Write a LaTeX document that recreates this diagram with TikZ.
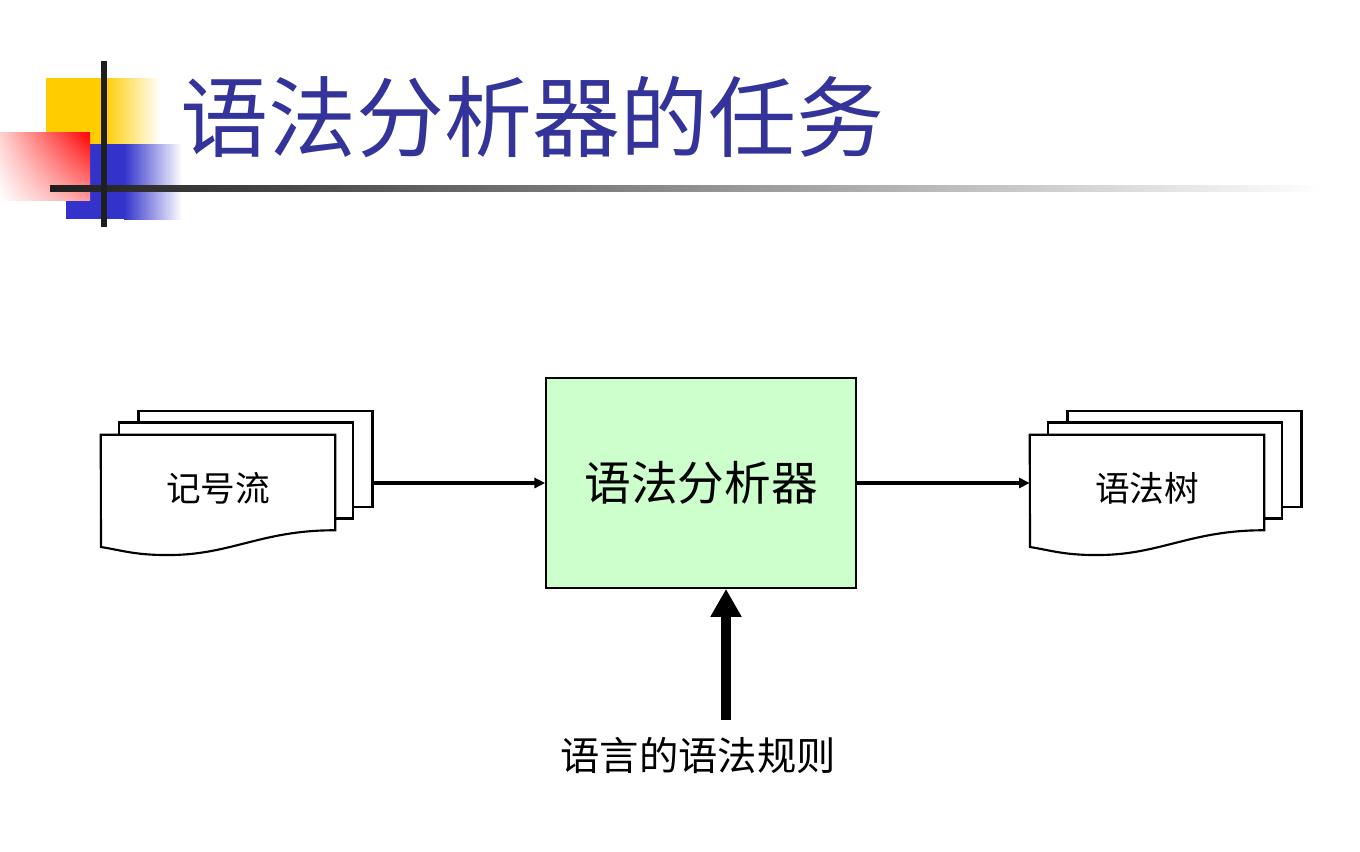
\documentclass[tikz,border=0pt]{standalone}
\usepackage{fontspec}
\setmainfont{Noto Sans CJK SC}
\usetikzlibrary{arrows.meta,shadings}
\definecolor{titleblue}{HTML}{333399}
\definecolor{boxgreen}{HTML}{CCFFCC}
\definecolor{logoyellow}{HTML}{FFCC00}
\definecolor{logoblue}{HTML}{3333CC}
\begin{document}
\begin{tikzpicture}[x=0.75pt,y=-0.75pt,
  page/.style={draw=black,line width=1.6pt,fill=white,minimum width=175.5pt,minimum height=72pt,inner sep=0pt},
  frontpage/.style={minimum width=175.5pt,minimum height=71.25pt,inner sep=0pt,font=\fontsize{26pt}{30pt}\selectfont},
  flow/.style={line width=2.4pt,-{Triangle[length=8pt,width=7.5pt]}},
  bigflow/.style={line width=7.5pt,-{Triangle[length=21pt,width=22pt]}}]
\useasboundingbox (0,0) rectangle (1360,851);
% logo
\fill[logoyellow] (46,78) rectangle (104,144);
\shade[left color=logoyellow,right color=white] (104,78) rectangle (160,144);
\fill[logoblue] (66,144) rectangle (124,219);
\shade[left color=logoblue,right color=white] (124,144) rectangle (182,219);
\shade[upper right=red,upper left=red!18,lower right=red!40,lower left=white] (0,132) rectangle (90,200);
\shade[left color=black!88,right color=white] (50,185) rectangle (1325,191);
\fill[black!88] (101,61) rectangle (107,227);
% title
\node[text=titleblue,font=\fontsize{66pt}{70pt}\selectfont,anchor=west,inner sep=0pt] (title) at (180,117) {语法分析器的任务};
% main box
\node[draw=black,line width=1.3pt,fill=boxgreen,minimum width=232.5pt,minimum height=157.5pt,inner sep=0pt,font=\fontsize{35pt}{40pt}\selectfont] (box) at (701,483) {语法分析器};
% left document stack
\node[page] (lback) at (255.5,459) {};
\node[page] (lmid) at (236,470.5) {};
\node[frontpage] (lfront) at (218,482.5) {};
\filldraw[line width=1.6pt,fill=white] (lfront.north west) -- (lfront.north east) -- (lfront.south east)
  .. controls (260,530) and (230,556) .. (165,555) .. controls (135,555) and (120,550) .. (101,547) -- cycle;
\node[font=\fontsize{26pt}{30pt}\selectfont] (ltext) at (218,488) {记号流};
% right document stack
\node[page] (rback) at (1184.5,459) {};
\node[page] (rmid) at (1165,470.5) {};
\node[frontpage] (rfront) at (1147,482.5) {};
\filldraw[line width=1.6pt,fill=white] (rfront.north west) -- (rfront.north east) -- (rfront.south east)
  .. controls (1189,530) and (1159,556) .. (1094,555) .. controls (1064,555) and (1049,550) .. (1030,547) -- cycle;
\node[font=\fontsize{26pt}{30pt}\selectfont] (rtext) at (1147,488) {语法树};
% arrows
\draw[flow] (box.west -| lback.east) -- (box.west);
\draw[flow] (box.east) -- (box.east -| rfront.west);
% bottom label and arrow
\node[font=\fontsize{29.5pt}{34pt}\selectfont] (rules) at (698,755) {语言的语法规则};
\coordinate (src) at (726,720);
\draw[bigflow] (src) -- (src |- box.south);
\end{tikzpicture}
\end{document}
